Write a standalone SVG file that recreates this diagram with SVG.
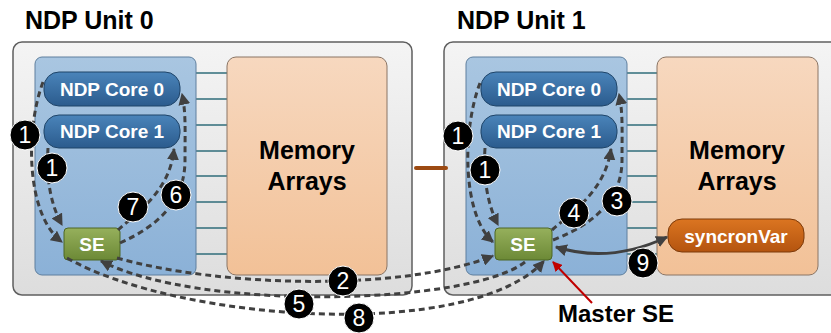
<svg xmlns="http://www.w3.org/2000/svg" width="831" height="333" viewBox="0 0 831 333">
<defs>
<linearGradient id="gOuter" x1="0" y1="0" x2="0" y2="1"><stop offset="0" stop-color="#f4f4f4"/><stop offset="1" stop-color="#dddddd"/></linearGradient>
<linearGradient id="gBlue" x1="0" y1="0" x2="0" y2="1"><stop offset="0" stop-color="#a9c6e1"/><stop offset="1" stop-color="#8bb1d7"/></linearGradient>
<linearGradient id="gCore" x1="0" y1="0" x2="0" y2="1"><stop offset="0" stop-color="#4a84ba"/><stop offset="1" stop-color="#2b5b8d"/></linearGradient>
<linearGradient id="gMem" x1="0" y1="0" x2="0" y2="1"><stop offset="0" stop-color="#f7d8bf"/><stop offset="1" stop-color="#f2c197"/></linearGradient>
<linearGradient id="gSE" x1="0" y1="0" x2="0" y2="1"><stop offset="0" stop-color="#96b05c"/><stop offset="1" stop-color="#6c8936"/></linearGradient>
<linearGradient id="gSync" x1="0" y1="0" x2="0" y2="1"><stop offset="0" stop-color="#db7521"/><stop offset="1" stop-color="#b4540f"/></linearGradient>
<marker id="ah" viewBox="0 0 10 10" refX="9" refY="5" markerWidth="4" markerHeight="4" orient="auto-start-reverse" markerUnits="strokeWidth"><path d="M0,0 L10,5 L0,10 z" fill="#404040"/></marker>
<marker id="ahr" viewBox="0 0 10 10" refX="9" refY="5" markerWidth="5" markerHeight="5" orient="auto" markerUnits="strokeWidth"><path d="M0,0 L10,5 L0,10 z" fill="#c00000"/></marker>
</defs>
<style>
.title{font-family:"Liberation Sans",Arial,sans-serif;font-weight:bold;font-size:25px;fill:#000}
.outer{fill:url(#gOuter);stroke:#5f5f5f;stroke-width:1.5}
.blue{fill:url(#gBlue);stroke:#5e7f9e;stroke-width:1}
.mem{fill:url(#gMem);stroke:#8a7565;stroke-width:1}
.core{fill:url(#gCore);stroke:#1f4468;stroke-width:1}
.se{fill:url(#gSE);stroke:#4c6624;stroke-width:1}
.sync{fill:url(#gSync);stroke:#7c3a0a;stroke-width:1}
.wt{font-family:"Liberation Sans",Arial,sans-serif;font-weight:bold;fill:#fff;text-anchor:middle}
.memt{font-family:"Liberation Sans",Arial,sans-serif;font-weight:bold;font-size:25px;fill:#000;text-anchor:middle}
.bus{stroke:#2f6c7a;stroke-width:1.5}
.dash{fill:none;stroke:#404040;stroke-width:3;stroke-dasharray:6 4;marker-end:url(#ah)}
.badge circle{fill:#000;stroke:#fff;stroke-width:1}
.badge text{font-family:"Liberation Sans",Arial,sans-serif;font-size:23px;fill:#fff;text-anchor:middle}
</style>

<text class="title" x="25" y="29">NDP Unit 0</text>
<text class="title" x="457" y="29">NDP Unit 1</text>

<g id="unit0">
<rect class="outer" x="13" y="42" width="399" height="253" rx="9"/>
<g class="bus">
<line x1="196" y1="73" x2="227" y2="73"/><line x1="196" y1="99" x2="227" y2="99"/><line x1="196" y1="125" x2="227" y2="125"/><line x1="196" y1="151" x2="227" y2="151"/><line x1="196" y1="176" x2="227" y2="176"/><line x1="196" y1="202" x2="227" y2="202"/><line x1="196" y1="228" x2="227" y2="228"/><line x1="196" y1="254" x2="227" y2="254"/>
</g>
<rect class="blue" x="35" y="57" width="161" height="218" rx="7"/>
</g>
<g id="memory0">
<rect class="mem" x="227" y="57" width="160" height="218" rx="9"/>
<text class="memt" x="307" y="159">Memory</text>
<text class="memt" x="307" y="190">Arrays</text>
</g>
<g id="core0-0"><rect class="core" x="44" y="72" width="136" height="34" rx="15"/><text class="wt" x="112" y="96" font-size="19">NDP Core 0</text></g>
<g id="core0-1"><rect class="core" x="44" y="115" width="136" height="33" rx="15"/><text class="wt" x="112" y="138" font-size="19">NDP Core 1</text></g>
<g id="se0"><rect class="se" x="64" y="228" width="56" height="32" rx="4"/><text class="wt" x="92" y="251" font-size="19">SE</text></g>

<g id="unit1">
<rect class="outer" x="444" y="42" width="400" height="253" rx="9"/>
<g class="bus">
<line x1="627" y1="73" x2="657" y2="73"/><line x1="627" y1="99" x2="657" y2="99"/><line x1="627" y1="125" x2="657" y2="125"/><line x1="627" y1="151" x2="657" y2="151"/><line x1="627" y1="176" x2="657" y2="176"/><line x1="627" y1="202" x2="657" y2="202"/><line x1="627" y1="228" x2="657" y2="228"/><line x1="627" y1="254" x2="657" y2="254"/>
</g>
<rect class="blue" x="466" y="57" width="161" height="218" rx="7"/>
</g>
<g id="memory1">
<rect class="mem" x="657" y="57" width="161" height="218" rx="9"/>
<text class="memt" x="737" y="159">Memory</text>
<text class="memt" x="737" y="190">Arrays</text>
</g>
<g id="core1-0"><rect class="core" x="481" y="72" width="136" height="34" rx="15"/><text class="wt" x="549" y="96" font-size="19">NDP Core 0</text></g>
<g id="core1-1"><rect class="core" x="481" y="115" width="136" height="33" rx="15"/><text class="wt" x="549" y="138" font-size="19">NDP Core 1</text></g>
<g id="se1"><rect class="se" x="495" y="228" width="57" height="32" rx="4"/><text class="wt" x="523" y="251" font-size="19">SE</text></g>
<g id="syncronVar"><rect class="sync" x="668" y="219" width="136" height="33" rx="14"/><text class="wt" x="736" y="243" font-size="19">syncronVar</text></g>

<g id="connectors">
<line x1="416" y1="168" x2="446" y2="168" stroke="#9c4a12" stroke-width="4" stroke-linecap="round"/>
<path class="dash" d="M43,82 C25,130 26,215 62,242"/>
<path class="dash" d="M48,148 C46,180 51,205 62,225"/>
<path class="dash" d="M120,243 C160,225 185,200 185,160 C185,130 186,112 182,94"/>
<path class="dash" d="M118,230 C140,210 170,190 174,149"/>
<path class="dash" d="M480,83 C462,130 462,215 493,242"/>
<path class="dash" d="M485,148 C483,180 488,205 498,225"/>
<path class="dash" d="M553,240 C600,222 622,195 622,160 C622,130 623,112 619,94"/>
<path class="dash" d="M552,230 C575,210 605,190 611,149"/>
<path class="dash" d="M117,258 C220,287 400,292 493,256"/>
<path class="dash" d="M525,262 C470,305 200,312 101,261"/>
<path class="dash" d="M67,258 C180,322 470,342 544,261"/>
<path d="M556,247 Q610,264 667,237" fill="none" stroke="#404040" stroke-width="3" marker-start="url(#ah)" marker-end="url(#ah)"/>
<line x1="592" y1="303" x2="553" y2="262" stroke="#c00000" stroke-width="2" marker-end="url(#ahr)"/>
</g>

<g id="badges">
<g class="badge"><circle cx="25" cy="135" r="15"/><text x="25" y="143">1</text></g>
<g class="badge"><circle cx="52" cy="168" r="15"/><text x="52" y="176">1</text></g>
<g class="badge"><circle cx="133" cy="207" r="15"/><text x="133" y="215">7</text></g>
<g class="badge"><circle cx="176" cy="195" r="15"/><text x="176" y="203">6</text></g>
<g class="badge"><circle cx="343" cy="281" r="15"/><text x="343" y="289">2</text></g>
<g class="badge"><circle cx="299" cy="304" r="15"/><text x="299" y="312">5</text></g>
<g class="badge"><circle cx="359" cy="318" r="15"/><text x="359" y="326">8</text></g>
<g class="badge"><circle cx="458" cy="136" r="15"/><text x="458" y="144">1</text></g>
<g class="badge"><circle cx="485" cy="170" r="15"/><text x="485" y="178">1</text></g>
<g class="badge"><circle cx="574" cy="213" r="15"/><text x="574" y="221">4</text></g>
<g class="badge"><circle cx="617" cy="201" r="15"/><text x="617" y="209">3</text></g>
<g class="badge"><circle cx="643" cy="263" r="15"/><text x="643" y="271">9</text></g>
</g>

<text x="558" y="322" font-family="'Liberation Sans',Arial,sans-serif" font-weight="bold" font-size="24" fill="#000">Master SE</text>
</svg>
